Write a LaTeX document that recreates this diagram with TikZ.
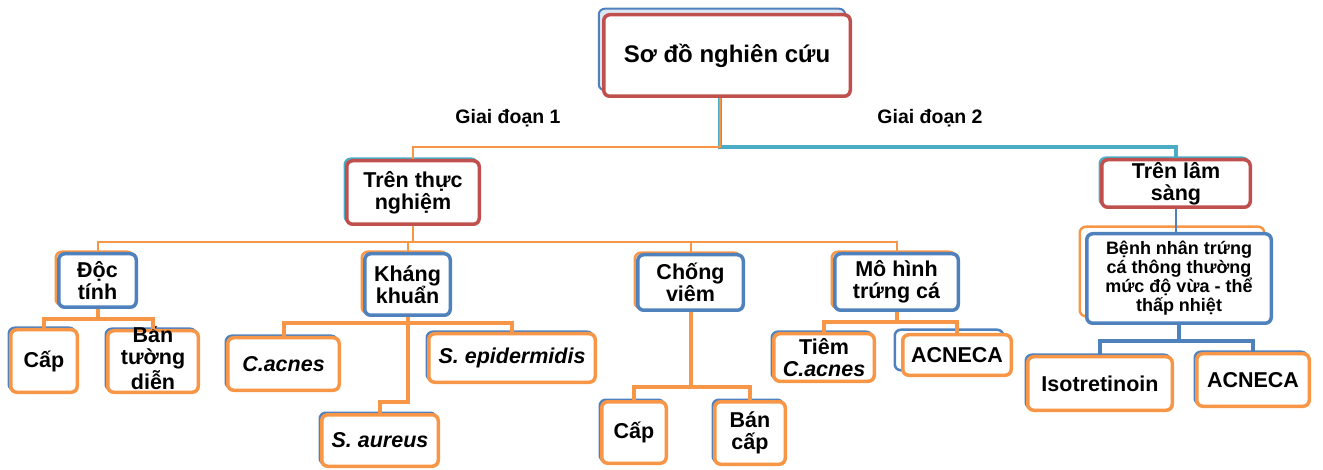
\documentclass[tikz,border=0pt]{standalone}
\usepackage{fontspec}
\setmainfont{Liberation Sans}
\usetikzlibrary{shadows}
\definecolor{rd}{HTML}{C0504D}
\definecolor{bl}{HTML}{4F81BD}
\definecolor{og}{HTML}{F79646}
\definecolor{tq}{HTML}{4BACC6}
\definecolor{lb}{HTML}{DCE6F2}
\begin{document}
\begin{tikzpicture}[x=1pt, y=-1pt,
  box/.style={draw, line width=3.5pt, rounded corners=6pt, fill=white, align=center, inner sep=1pt, font=\bfseries\fontsize{21.5}{22}\selectfont},
  back/.style n args={3}{copy shadow={draw=#1, fill=white, line width=2.5pt, shadow xshift=#2pt, shadow yshift=#3pt}},
  rbox/.style={box, draw=rd, back={tq}{-2}{2}},
  bbox/.style={box, draw=bl, back={og}{-3}{2}},
  obox/.style={box, draw=og, back={bl}{-2}{2}},
  lnor/.style={draw=og, line width=2pt},
  lntq/.style={draw=tq, line width=4pt},
  lnbl/.style={draw=bl, line width=1.2pt},
  baror/.style={draw=og, line width=4pt},
  barbl/.style={draw=bl, line width=4pt},
  lab/.style={font=\bfseries\fontsize{19.5}{22}\selectfont}]
\useasboundingbox (0,0) rectangle (1323,470);
\node[box, draw=rd, copy shadow={draw=bl, fill=lb, line width=2pt, shadow xshift=-5pt, shadow yshift=6pt}, minimum width=246.5, minimum height=81.5, font=\bfseries\fontsize{24}{28}\selectfont] (root) at (727,55.5) {Sơ đồ nghiên cứu};
\node[lab] (g1) at (508,118) {Giai đoạn 1};
\node[lab] (g2) at (930,118) {Giai đoạn 2};
\node[rbox, minimum width=132.5, minimum height=63.5] (tn) at (413,192.5) {Trên thực\\nghiệm};
\node[rbox, minimum width=148.5, minimum height=47.5] (tl) at (1176,183.5) {Trên lâm\\sàng};
\node[bbox, minimum width=77.5, minimum height=53.5] (dt) at (97.5,280.5) {Độc\\tính};
\node[bbox, minimum width=85.5, minimum height=61.5] (kk) at (407.5,284.5) {Kháng\\khuẩn};
\node[bbox, minimum width=105.5, minimum height=55.5] (cv) at (690.5,282.5) {Chống\\viêm};
\node[bbox, minimum width=123.5, minimum height=56.5] (mh) at (896.5,282) {Mô hình\\trứng cá};
\node[box, draw=bl, back={og}{-7}{7}, minimum width=184.5, minimum height=89.5, font=\bfseries\fontsize{18}{19}\selectfont] (bn) at (1179,278.5) {Bệnh nhân trứng\\cá thông thường\\mức độ vừa - thể\\thấp nhiệt};
\node[obox, minimum width=66.5, minimum height=62.5] (cap1) at (44,361) {Cấp};
\node[obox, minimum width=90.5, inner sep=0pt, text height=58.75pt, text depth=2.75pt] (btd) at (153,361.5) {Bán\\tường\\diễn};
\node[obox, minimum width=111.5, minimum height=52.5] (ca) at (283.5,364) {\textit{C.acnes}};
\node[obox, minimum width=166.5, minimum height=48.5] (se) at (512,358) {\textit{S. epidermidis}};
\node[obox, minimum width=116.5, minimum height=51.5] (sa) at (380,440.5) {\textit{S. aureus}};
\node[obox, minimum width=64.5, minimum height=61.5] (cap2) at (634,432.5) {Cấp};
\node[obox, minimum width=70.5, minimum height=62.5] (bc) at (750,433) {Bán\\cấp};
\node[obox, minimum width=100.5, minimum height=47.5] (tc) at (824,357.5) {Tiêm\\\textit{C.acnes}};
\node[box, draw=og, back={bl}{-8}{5}, minimum width=108.5, minimum height=40.5] (acm) at (957,355) {ACNECA};
\node[obox, minimum width=144.5, minimum height=53.5] (iso) at (1100,383.5) {Isotretinoin};
\node[obox, minimum width=112.5, minimum height=52.5] (acr) at (1253,380) {ACNECA};
\draw[lntq] ([xshift=-7pt]root.south) -- ++(0,49) -| (tl.north);
\draw[lnor] ([xshift=-7pt]root.south) -- ++(0,49) -| (tn.north);
\draw[lnor] (tn.south) -- ++(0,16) -| (dt.north);
\draw[lnor] (tn.south) -- ++(0,16) -| (kk.north);
\draw[lnor] (tn.south) -- ++(0,16) -| (cv.north);
\draw[lnor] (tn.south) -- ++(0,16) -| (mh.north);
\draw[lnbl] (tl.south) -- (tl.south |- bn.north);
\draw[baror] (dt.south) -- ++(0,10) -| (cap1.north);
\draw[baror] (dt.south) -- ++(0,10) -| (btd.north);
\draw[baror] (kk.south) -- ++(0,6) -| (ca.north);
\draw[baror] (kk.south) -- ++(0,6) -| (se.north);
\draw[baror] (kk.south) -- ++(0,85) -| (sa.north);
\draw[baror] (cv.south) -- ++(0,75) -| (cap2.north);
\draw[baror] (cv.south) -- ++(0,75) -| (bc.north);
\draw[baror] (mh.south) -- ++(0,10) -| (tc.north);
\draw[baror] (mh.south) -- ++(0,10) -| (acm.north);
\draw[barbl] (bn.south) -- ++(0,16) -| (iso.north);
\draw[barbl] (bn.south) -- ++(0,16) -| (acr.north);
\end{tikzpicture}
\end{document}
